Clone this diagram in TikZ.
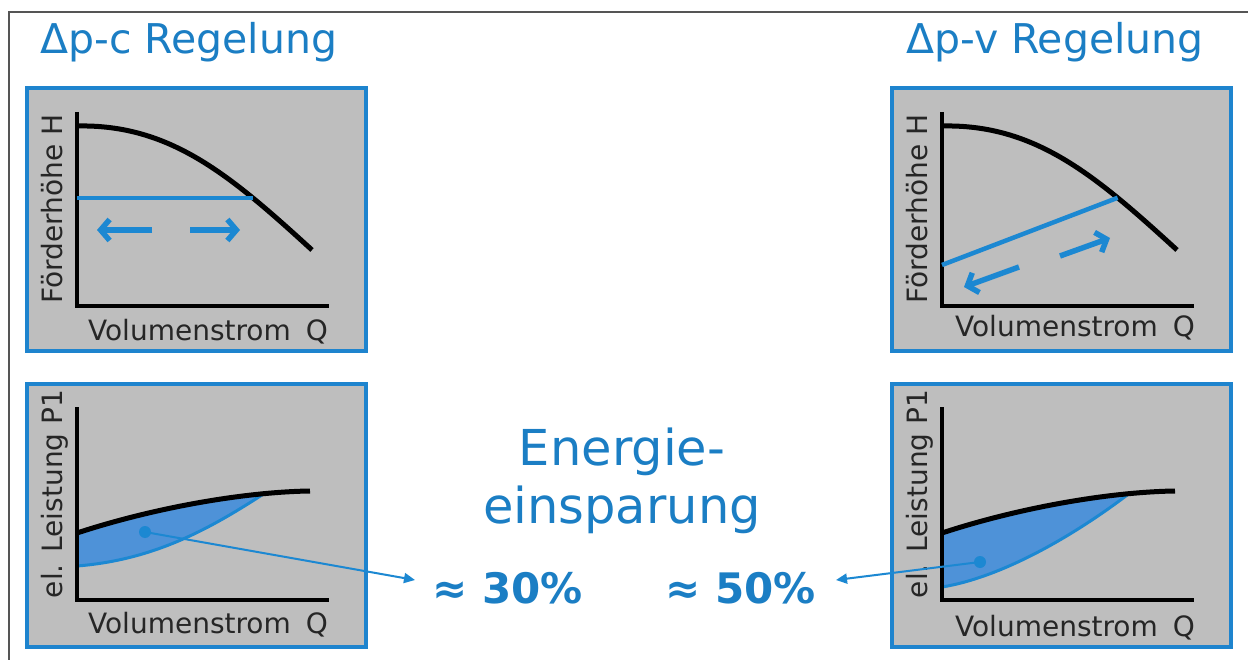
\documentclass[tikz,border=0pt]{standalone}
\usepackage{fontspec}
\setmainfont{DejaVu Sans}
\usetikzlibrary{arrows.meta,calc}

\definecolor{titleblue}{RGB}{27,126,196}
\definecolor{frameblue}{RGB}{30,132,206}
\definecolor{lineblue}{RGB}{28,136,210}
\definecolor{areablue}{RGB}{78,146,216}
\definecolor{panelgray}{RGB}{190,190,190}
\definecolor{rulegray}{RGB}{85,85,85}

\tikzset{
  panel/.style={draw=frameblue, line width=4pt, fill=panelgray,
    minimum width=339pt, minimum height=263pt, inner sep=0pt, anchor=north west},
  axis/.style={line width=3.5pt, black, line join=miter},
  pumpcurve/.style={line width=5pt, black},
  ctrlline/.style={line width=4.5pt, lineblue},
  gainline/.style={line width=3pt, lineblue},
  flowarrow/.style={line width=5.5pt, lineblue, -{Straight Barb[length=9pt,width=21pt]}},
  axlabel/.style={font=\fontsize{28}{28}\selectfont, inner sep=0pt, text=black!85},
  heading/.style={font=\fontsize{41}{41}\selectfont, text=titleblue, inner sep=0pt, anchor=base west},
  saving/.style={font=\fontsize{49.5}{49.5}\selectfont, text=titleblue, inner sep=0pt, anchor=base},
  percent/.style={font=\fontsize{42}{42}\selectfont\bfseries, text=titleblue, inner sep=0pt, anchor=base west},
  dotmark/.style={circle, fill=lineblue, minimum size=12pt, inner sep=0pt},
  pointer/.style={line width=2pt, lineblue, -{Triangle[length=11pt,width=10pt]}},
}

\begin{document}
\begin{tikzpicture}[x=1pt,y=-1pt]
  \useasboundingbox (0,0) rectangle (1248,660);
  \fill[white] (0,0) rectangle (1248,660);

  % outer frame (open to the right and bottom)
  \coordinate (fb) at (9,660);
  \coordinate (ftl) at (9,12);
  \coordinate (ftr) at (1248,12);
  \draw[rulegray, line width=1.5pt] (fb) -- (ftl) -- (ftr);

  % headings
  \node[heading] (headC) at (40,54) {Δp-c Regelung};
  \node[heading] (headV) at (906,54) {Δp-v Regelung};

  % ---------- Δp-c : head over flow ----------
  \begin{scope}[shift={(23,84)}]
    \node[panel] (boxHc) at (2,2) {};
    \coordinate (oHc) at (54,222);
    \coordinate (yHc) at (54,28);
    \coordinate (xHc) at (306,222);
    \draw[axis] (yHc) -- (oHc) -- (xHc);
    \draw[pumpcurve] (54,42) .. controls (147,40) and (207,91) .. coordinate[pos=0.745] (opHc) (289,166);
    \draw[ctrlline] (oHc |- opHc) -- (opHc);
    \coordinate (a1s) at (129,146); \coordinate (a1e) at (74,146);
    \coordinate (a2s) at (167,146); \coordinate (a2e) at (217,146);
    \draw[flowarrow] (a1s) -- (a1e);
    \draw[flowarrow] (a2s) -- (a2e);
    \node[axlabel, rotate=90, anchor=base] (ylabHc) at (39,125) {Förderhöhe H};
    \node[axlabel, anchor=base] (xlabHc) at (185,257) {Volumenstrom\hspace{15pt}Q};
  \end{scope}

  % ---------- Δp-c : power over flow ----------
  \begin{scope}[shift={(23,380)}]
    \node[panel] (boxPc) at (2,2) {};
    \coordinate (oPc) at (54,220);
    \coordinate (yPc) at (54,27);
    \coordinate (xPc) at (306,220);
    \coordinate (topPc) at (54,60);
    \path (54,153) .. controls (130,128) and (220,112) .. coordinate[pos=0.785] (mPc) (287,111);
    \begin{scope}
      \clip (54,153) .. controls (130,128) and (220,112) .. (287,111) -- (287,220) -- (54,220) -- cycle;
      \fill[areablue] (54,186) .. controls (130,180) and (185,150) .. (mPc) -- (mPc |- topPc) -- (topPc) -- cycle;
    \end{scope}
    \draw[gainline] (54,186) .. controls (130,180) and (185,150) .. (mPc);
    \draw[pumpcurve] (54,153) .. controls (130,128) and (220,112) .. (287,111);
    \draw[axis] (yPc) -- (oPc) -- (xPc);
    \node[dotmark] (dotC) at (122,152) {};
    \node[axlabel, rotate=90, anchor=base] (ylabPc) at (39,114) {el. Leistung P1};
    \node[axlabel, anchor=base] (xlabPc) at (185,253) {Volumenstrom\hspace{15pt}Q};
  \end{scope}

  % ---------- Δp-v : head over flow ----------
  \begin{scope}[shift={(888,84)}]
    \node[panel] (boxHv) at (2,2) {};
    \coordinate (oHv) at (54,222);
    \coordinate (yHv) at (54,28);
    \coordinate (xHv) at (306,222);
    \draw[axis] (yHv) -- (oHv) -- (xHv);
    \draw[pumpcurve] (54,42) .. controls (147,40) and (207,91) .. coordinate[pos=0.745] (opHv) (289,166);
    \coordinate (lowHv) at (54,181);
    \draw[ctrlline] (lowHv) -- (opHv);
    \coordinate (b1s) at (131,183); \coordinate (b1e) at (76,203);
    \coordinate (b2s) at (172,172); \coordinate (b2e) at (222,154);
    \draw[flowarrow] (b1s) -- (b1e);
    \draw[flowarrow] (b2s) -- (b2e);
    \node[axlabel, rotate=90, anchor=base] (ylabHv) at (39,125) {Förderhöhe H};
    \node[axlabel, anchor=base] (xlabHv) at (187,253) {Volumenstrom\hspace{15pt}Q};
  \end{scope}

  % ---------- Δp-v : power over flow ----------
  \begin{scope}[shift={(888,380)}]
    \node[panel] (boxPv) at (2,2) {};
    \coordinate (oPv) at (54,220);
    \coordinate (yPv) at (54,27);
    \coordinate (xPv) at (306,220);
    \coordinate (topPv) at (54,60);
    \path (54,153) .. controls (130,128) and (220,112) .. coordinate[pos=0.785] (mPv) (287,111);
    \begin{scope}
      \clip (54,153) .. controls (130,128) and (220,112) .. (287,111) -- (287,220) -- (54,220) -- cycle;
      \fill[areablue] (54,207) .. controls (110,198) and (180,160) .. (mPv) -- (mPv |- topPv) -- (topPv) -- cycle;
    \end{scope}
    \draw[gainline] (54,207) .. controls (110,198) and (180,160) .. (mPv);
    \draw[pumpcurve] (54,153) .. controls (130,128) and (220,112) .. (287,111);
    \draw[axis] (yPv) -- (oPv) -- (xPv);
    \node[dotmark] (dotV) at (92,182) {};
    \node[axlabel, rotate=90, anchor=base] (ylabPv) at (39,114) {el. Leistung P1};
    \node[axlabel, anchor=base] (xlabPv) at (187,256) {Volumenstrom\hspace{15pt}Q};
  \end{scope}

  % ---------- savings ----------
  \node[saving] (save1) at (622,465) {Energie-};
  \node[saving] (save2) at (622,523) {einsparung};
  \node[percent] (p30) at (432,603) {≈ 30\%};
  \node[percent] (p50) at (665,603) {≈ 50\%};

  \coordinate (t30) at (415,580);
  \coordinate (t50) at (836,580);
  \draw[pointer] (dotC.center) -- (t30);
  \draw[pointer] (dotV.center) -- (t50);
\end{tikzpicture}
\end{document}
